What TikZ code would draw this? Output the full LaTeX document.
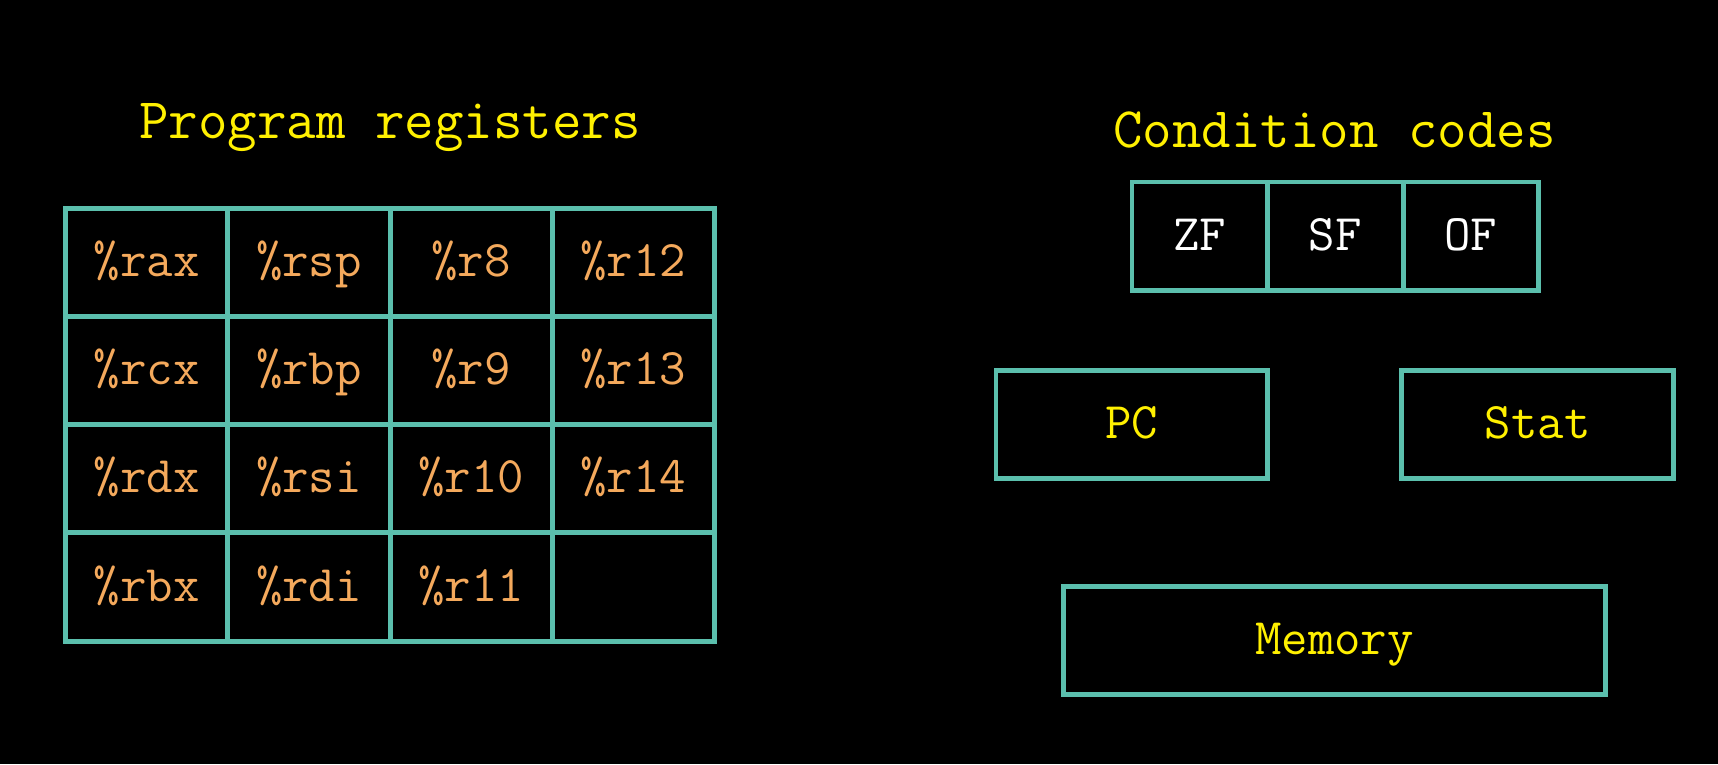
\documentclass[tikz,border=0pt]{standalone}
\usetikzlibrary{positioning}

\definecolor{boxteal}{HTML}{5BBFAD}
\definecolor{regorange}{HTML}{F4A95C}
\definecolor{labelyellow}{HTML}{FFF000}

\tikzset{
  cell/.style={draw=boxteal,line width=1.4pt,outer sep=0pt,inner sep=0pt,
    minimum width=1.6216cm,minimum height=1.082cm,text height=1em,text depth=0.2em,
    font=\ttfamily\fontsize{14.6}{17}\selectfont},
  regcell/.style={cell,text=regorange},
  flagcell/.style={cell,text=white,minimum width=1.355cm},
  statebox/.style={cell,text=labelyellow,minimum width=2.717cm},
  heading/.style={text=labelyellow,font=\ttfamily\fontsize{16.3}{19}\selectfont},
}

\begin{document}
\begin{tikzpicture}[x=0.010957cm,y=-0.010957cm]
    \fill[black] (0,0) rectangle (1568,697.3);
    % register file
    \node[heading] (regtitle) at (356,116) {Program registers};
    \foreach \reg [count=\k from 0] in {\%rax,\%rsp,\%r8,\%r12,
        \%rcx,\%rbp,\%r9,\%r13,\%rdx,\%rsi,\%r10,\%r14,\%rbx,\%rdi,\%r11,{}}{
      \pgfmathtruncatemacro{\col}{mod(\k,4)}
      \pgfmathtruncatemacro{\row}{div(\k,4)}
      \node[regcell] (reg\k) at ({134+148*\col},{239.5+98.75*\row}) {\reg};
    }
    % condition codes
    \node[heading] (cctitle) at (1218,119) {Condition codes};
    \node[flagcell] (zf) at (1095,215.5) {ZF};
    \node[flagcell,right=0pt of zf] (sf) {SF};
    \node[flagcell,right=0pt of sf] (of) {OF};
    % other state
    \node[statebox] (pc) at (1033,387.5) {PC};
    \node[statebox] (stat) at (1403.5,387.5) {Stat};
    \node[statebox,minimum width=5.413cm] (mem) at (1218,584.5) {Memory};
\end{tikzpicture}
\end{document}
